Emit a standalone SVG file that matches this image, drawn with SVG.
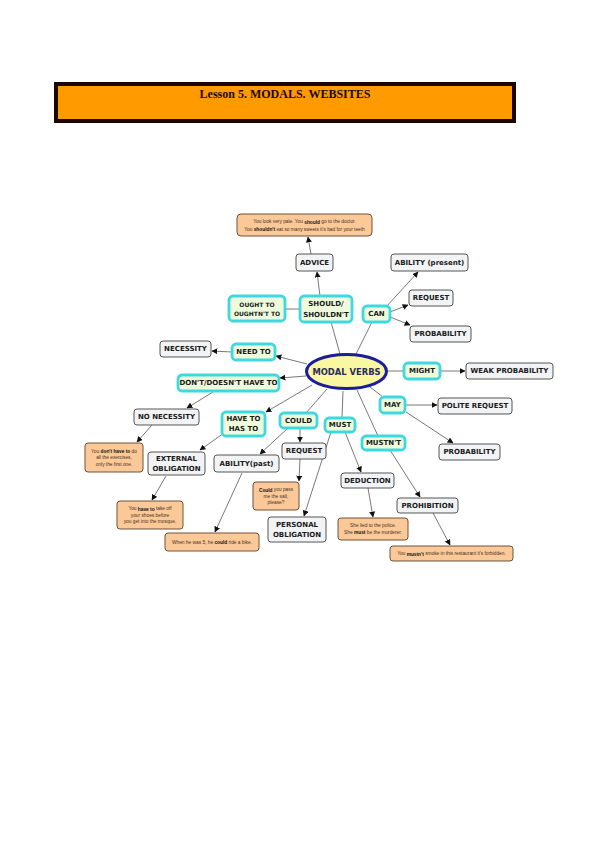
<svg xmlns="http://www.w3.org/2000/svg" width="596" height="842" viewBox="0 0 596 842">
<defs>
<marker id="ah" viewBox="0 0 10 10" refX="9" refY="5" markerWidth="6" markerHeight="6" markerUnits="userSpaceOnUse" orient="auto">
<path d="M0,0 L10,5 L0,10 z" fill="#111"/>
</marker>
<style>
.cy rect{fill:#eefcdc;stroke:#3fd8df;stroke-width:2.8}
.gy rect{fill:#f1f3f5;stroke:#555;stroke-width:1}
.ex rect{fill:#fbc898;stroke:#6e5238;stroke-width:1}
.cy text,.gy text{font-family:"DejaVu Sans",Verdana,sans-serif;font-weight:bold;font-size:7px;fill:#1a1a1a;text-anchor:middle;dominant-baseline:central}
.cy text.sm{font-size:6px}
.ex text{font-family:"Liberation Sans",Arial,sans-serif;font-size:4.8px;fill:#4a3020;text-anchor:middle;dominant-baseline:central}
.ex tspan.b{font-weight:bold;fill:#111}
#connectors line{stroke:#555;stroke-width:0.8}
#connectors line.a{marker-end:url(#ah)}
</style>
</defs>
<rect width="596" height="842" fill="#fff"/>
<g id="title">
<rect x="56" y="84" width="458" height="37" fill="#ff9a00" stroke="#1a0800" stroke-width="4"/>
<text x="285" y="94" font-family="Liberation Serif,'Times New Roman',serif" font-weight="bold" font-size="12" fill="#1a0800" text-anchor="middle" dominant-baseline="central">Lesson 5. MODALS. WEBSITES</text>
</g>
<g id="connectors">
<line class="a" x1="320" y1="296" x2="317" y2="272"/>
<line class="a" x1="311" y1="254" x2="308" y2="237"/>
<line x1="340" y1="354" x2="331" y2="322"/>
<line x1="285" y1="309" x2="300" y2="309"/>
<line x1="356" y1="354" x2="372" y2="322"/>
<line class="a" x1="386" y1="307" x2="418" y2="272"/>
<line class="a" x1="390" y1="312" x2="408" y2="305"/>
<line class="a" x1="390" y1="317" x2="410" y2="325"/>
<line class="a" x1="307" y1="364" x2="276" y2="356"/>
<line class="a" x1="232" y1="352" x2="212" y2="351"/>
<line class="a" x1="306" y1="376" x2="280" y2="378"/>
<line class="a" x1="213" y1="392" x2="187" y2="408"/>
<line class="a" x1="312" y1="385" x2="266" y2="412"/>
<line x1="327" y1="389" x2="306" y2="413"/>
<line x1="343" y1="391" x2="342" y2="418"/>
<line x1="357" y1="390" x2="378" y2="436"/>
<line x1="370" y1="387" x2="383" y2="397"/>
<line x1="388" y1="371" x2="404" y2="371"/>
<line class="a" x1="440" y1="371" x2="465" y2="371"/>
<line class="a" x1="405" y1="405" x2="437" y2="405"/>
<line class="a" x1="406" y1="412" x2="453" y2="443"/>
<line class="a" x1="224" y1="433" x2="200" y2="450"/>
<line class="a" x1="152" y1="425" x2="137" y2="442"/>
<line class="a" x1="300" y1="428" x2="300" y2="442"/>
<line class="a" x1="288" y1="428" x2="260" y2="454"/>
<line class="a" x1="300" y1="459" x2="299" y2="481"/>
<line class="a" x1="242" y1="473" x2="215" y2="532"/>
<line class="a" x1="166" y1="476" x2="152" y2="500"/>
<line class="a" x1="331" y1="432" x2="304" y2="516"/>
<line class="a" x1="345" y1="432" x2="361" y2="472"/>
<line class="a" x1="368" y1="488" x2="373" y2="517"/>
<line class="a" x1="390" y1="450" x2="420" y2="497"/>
<line class="a" x1="433" y1="513" x2="450" y2="545"/>
</g>
<g id="modal-verbs">
<ellipse cx="346.5" cy="371.5" rx="40" ry="17" fill="#f9f7a0" stroke="#1c1c9c" stroke-width="3"/>
<text x="346.5" y="372" font-family="'DejaVu Sans',Verdana,sans-serif" font-weight="bold" font-size="8.4" fill="#2b2b5e" text-anchor="middle" dominant-baseline="central">MODAL VERBS</text>
</g>
<g id="ought" class="cy"><rect x="229" y="296" width="56" height="25" rx="4"/><text class="sm" x="257" y="304.5">OUGHT TO</text><text class="sm" x="257" y="313">OUGHTN'T TO</text></g>
<g id="should" class="cy"><rect x="300" y="296" width="52" height="26" rx="4"/><text x="326" y="304">SHOULD/</text><text x="326" y="315">SHOULDN'T</text></g>
<g id="can" class="cy"><rect x="363" y="306" width="27" height="16" rx="4"/><text x="376.5" y="314">CAN</text></g>
<g id="need-to" class="cy"><rect x="232" y="344" width="43" height="16" rx="4"/><text x="253.5" y="352">NEED TO</text></g>
<g id="dont-have-to" class="cy"><rect x="178" y="375" width="101" height="16" rx="4"/><text x="228.5" y="383">DON'T/DOESN'T HAVE TO</text></g>
<g id="might" class="cy"><rect x="404" y="363" width="36" height="16" rx="4"/><text x="422" y="371">MIGHT</text></g>
<g id="may" class="cy"><rect x="380" y="397" width="25" height="16" rx="4"/><text x="392.5" y="405">MAY</text></g>
<g id="have-to" class="cy"><rect x="222" y="412" width="43" height="24" rx="4"/><text x="243.5" y="418.5">HAVE TO</text><text x="243.5" y="429">HAS TO</text></g>
<g id="could" class="cy"><rect x="280" y="413" width="37" height="15" rx="4"/><text x="298.5" y="420.5">COULD</text></g>
<g id="must" class="cy"><rect x="325" y="418" width="30" height="14" rx="4"/><text x="340" y="425">MUST</text></g>
<g id="mustnt" class="cy"><rect x="362" y="436" width="43" height="14" rx="4"/><text x="383.5" y="443">MUSTN'T</text></g>
<g id="advice" class="gy"><rect x="296" y="254" width="37" height="17" rx="3"/><text x="314.5" y="262.5">ADVICE</text></g>
<g id="ability-present" class="gy"><rect x="391" y="254" width="77" height="17" rx="3"/><text x="429.5" y="262.5">ABILITY (present)</text></g>
<g id="request-can" class="gy"><rect x="409" y="290" width="44" height="16" rx="3"/><text x="431" y="298">REQUEST</text></g>
<g id="probability-can" class="gy"><rect x="410" y="326" width="61" height="16" rx="3"/><text x="440.5" y="334">PROBABILITY</text></g>
<g id="necessity" class="gy"><rect x="160" y="341" width="51" height="16" rx="3"/><text x="185.5" y="349">NECESSITY</text></g>
<g id="weak-probability" class="gy"><rect x="466" y="363" width="87" height="16" rx="3"/><text x="509.5" y="371">WEAK PROBABILITY</text></g>
<g id="polite-request" class="gy"><rect x="438" y="398" width="74" height="16" rx="3"/><text x="475" y="406">POLITE REQUEST</text></g>
<g id="probability-may" class="gy"><rect x="439" y="444" width="61" height="16" rx="3"/><text x="469.5" y="452">PROBABILITY</text></g>
<g id="no-necessity" class="gy"><rect x="134" y="409" width="65" height="16" rx="3"/><text x="166.5" y="417">NO NECESSITY</text></g>
<g id="external-obligation" class="gy"><rect x="148" y="452" width="57" height="23" rx="3"/><text x="176.5" y="458.5">EXTERNAL</text><text x="176.5" y="468.5">OBLIGATION</text></g>
<g id="request-could" class="gy"><rect x="282" y="443" width="44" height="16" rx="3"/><text x="304" y="451">REQUEST</text></g>
<g id="ability-past" class="gy"><rect x="214" y="455" width="65" height="17" rx="3"/><text x="246.5" y="463.5">ABILITY(past)</text></g>
<g id="deduction" class="gy"><rect x="341" y="473" width="53" height="15" rx="3"/><text x="367.5" y="480.5">DEDUCTION</text></g>
<g id="prohibition" class="gy"><rect x="397" y="498" width="61" height="15" rx="3"/><text x="427.5" y="505.5">PROHIBITION</text></g>
<g id="personal-obligation" class="gy"><rect x="268" y="517" width="58" height="25" rx="3"/><text x="297" y="524.5">PERSONAL</text><text x="297" y="534.5">OBLIGATION</text></g>
<g id="ex-advice" class="ex"><rect x="237" y="214" width="135" height="22" rx="4"/><text x="304.5" y="221.5">You look very pale. You <tspan class="b">should</tspan> go to the doctor.</text><text x="304.5" y="229">You <tspan class="b">shouldn't</tspan> eat so many sweets it's bad for your teeth</text></g>
<g id="ex-dont" class="ex"><rect x="85" y="443" width="58" height="29" rx="3"/><text x="114" y="451">You <tspan class="b">don't have to</tspan> do</text><text x="114" y="457.5">all the exercises,</text><text x="114" y="464">only the first one.</text></g>
<g id="ex-have" class="ex"><rect x="117" y="501" width="66" height="28" rx="3"/><text x="150" y="508.5">You <tspan class="b">have to</tspan> take off</text><text x="150" y="515">your shoes before</text><text x="150" y="521.5">you get into the mosque.</text></g>
<g id="ex-could" class="ex"><rect x="253" y="482" width="46" height="28" rx="3"/><text x="276" y="489.5"><tspan class="b">Could</tspan> you pass</text><text x="276" y="496">me the salt,</text><text x="276" y="502.5">please?</text></g>
<g id="ex-ability" class="ex"><rect x="165" y="533" width="94" height="18" rx="3"/><text x="212" y="542">When he was 5, he <tspan class="b">could</tspan> ride a bike.</text></g>
<g id="ex-must" class="ex"><rect x="338" y="518" width="70" height="22" rx="3"/><text x="373" y="525">She lied to the police.</text><text x="373" y="532">She <tspan class="b">must</tspan> be the murderer.</text></g>
<g id="ex-mustnt" class="ex"><rect x="390" y="546" width="123" height="15" rx="3"/><text x="451.5" y="553.5">You <tspan class="b">mustn't</tspan> smoke in this restaurant it's forbidden.</text></g>
</svg>
